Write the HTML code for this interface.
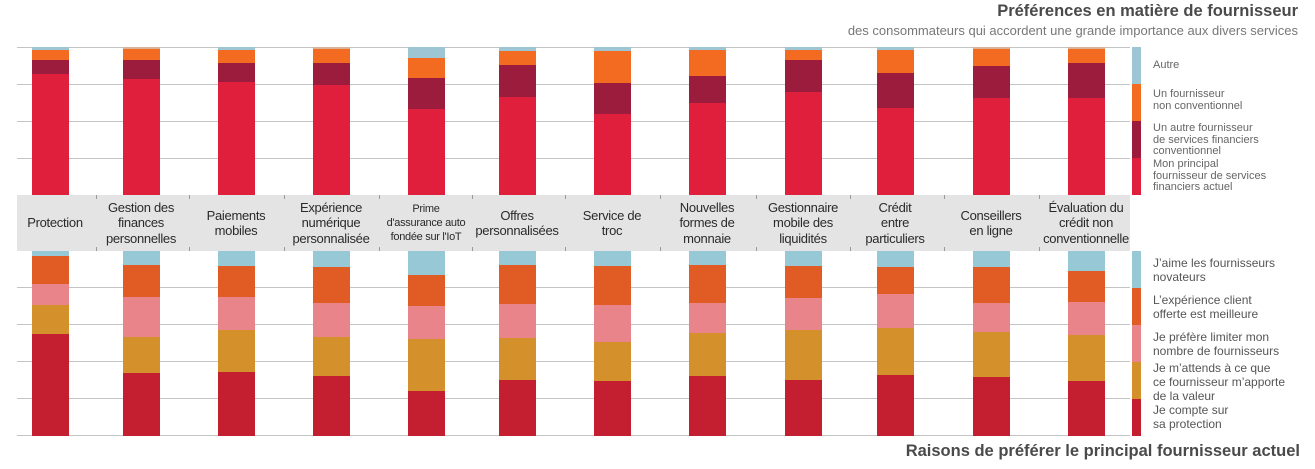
<!DOCTYPE html>
<html><head><meta charset="utf-8"><style>
body{margin:0;width:1315px;height:469px;background:#fff;position:relative;overflow:hidden;font-family:"Liberation Sans",sans-serif}
.a{position:absolute}
.g{position:absolute;height:1px;background:#c4c4c4;left:17px;width:1113px}
.s{position:absolute;width:37px}
.lab{position:absolute;top:195px;height:56px;display:flex;align-items:center;justify-content:center;text-align:center;font-size:13px;line-height:15.5px;color:#2a2a2a;width:110px;letter-spacing:-0.3px;white-space:nowrap}
.t{position:absolute;width:1px;height:4px;background:#999}
.lg{position:absolute;left:1153px;font-size:11px;line-height:11.5px;color:#666}
.lg2{position:absolute;left:1153px;font-size:12px;line-height:14px;color:#555}
</style></head><body>
<div class="a" style="right:17px;top:2px;font-size:16.5px;font-weight:bold;color:#4a4a4a">Préférences en matière de fournisseur</div>
<div class="a" style="right:17px;top:23px;font-size:13px;color:#777">des consommateurs qui accordent une grande importance aux divers services</div>
<div class="a" style="right:15px;top:442px;font-size:16.5px;font-weight:bold;color:#4a4a4a">Raisons de préférer le principal fournisseur actuel</div>
<div class="g" style="top:47px"></div><div class="g" style="top:84px"></div><div class="g" style="top:121px"></div><div class="g" style="top:158px"></div>
<div class="g" style="top:287px"></div><div class="g" style="top:324px"></div><div class="g" style="top:361px"></div><div class="g" style="top:398px"></div><div class="g" style="top:435px"></div>
<div class="a" style="left:17px;top:195px;width:1113px;height:56px;background:#e4e4e4"></div>
<div id="c"></div>
<div class="a" style="left:1132px;top:47px;width:9px;height:37px;background:#9ec5d3"></div>
<div class="a" style="left:1132px;top:84px;width:9px;height:37px;background:#f26b21"></div>
<div class="a" style="left:1132px;top:121px;width:9px;height:37px;background:#9b1c3c"></div>
<div class="a" style="left:1132px;top:158px;width:9px;height:37px;background:#e01f3d"></div>
<div class="lg" style="top:60px">Autre</div>
<div class="lg" style="top:89px">Un fournisseur<br>non conventionnel</div>
<div class="lg" style="top:123px">Un autre fournisseur<br>de services financiers<br>conventionnel</div>
<div class="lg" style="top:159px">Mon principal<br>fournisseur de services<br>financiers actuel</div>
<div class="a" style="left:1132px;top:251px;width:9px;height:37px;background:#96c8d6"></div>
<div class="a" style="left:1132px;top:288px;width:9px;height:37px;background:#e05c24"></div>
<div class="a" style="left:1132px;top:325px;width:9px;height:37px;background:#e8848a"></div>
<div class="a" style="left:1132px;top:362px;width:9px;height:37px;background:#d4902a"></div>
<div class="a" style="left:1132px;top:399px;width:9px;height:37px;background:#c41f31"></div>
<div class="lg2" style="top:256px">J’aime les fournisseurs<br>novateurs</div>
<div class="lg2" style="top:293px">L’expérience client<br>offerte est meilleure</div>
<div class="lg2" style="top:330px">Je préfère limiter mon<br>nombre de fournisseurs</div>
<div class="lg2" style="top:361px">Je m’attends à ce que<br>ce fournisseur m’apporte<br>de la valeur</div>
<div class="lg2" style="top:403px">Je compte sur<br>sa protection</div>
<script>
var xs=[32,123,218,313,408,499,594,689,785,877,973,1068];
var tp=[[47,50,60,74],[47,49,60,79],[47,50,63,82],[47,49,63,85],[47,58,78,109],[47,51,65,97],[47,51,83,114],[47,50,76,103],[47,50,60,92],[47,50,73,108],[47,49,66,98],[47,49,63,98]];
var tanI=[1,3,10,11];
var bot=[[251,256,284,305,334],[251,265,297,337,373],[251,266,297,330,372],[251,267,303,337,376],[251,275,306,339,391],[251,265,304,338,380],[251,266,305,342,381],[251,265,303,333,376],[251,266,298,330,380],[251,267,294,328,375],[251,267,303,332,377],[251,271,302,335,381]];
var labs=["Protection","Gestion des<br>finances<br>personnelles","Paiements<br>mobiles","Expérience<br>numérique<br>personnalisée","Prime<br>d'assurance auto<br>fondée sur l'IoT","Offres<br>personnalisées","Service de<br>troc","Nouvelles<br>formes de<br>monnaie","Gestionnaire<br>mobile des<br>liquidités","Crédit<br>entre<br>particuliers","Conseillers<br>en ligne","Évaluation du<br>crédit non<br>conventionnelle"];
var tc=["#9ec5d3","#f26b21","#9b1c3c","#e01f3d"],bc=["#96c8d6","#e05c24","#e8848a","#d4902a","#c41f31"];
var h="";
for(var i=0;i<12;i++){var x=xs[i];
var t=tp[i].concat([195]);
for(var k=0;k<4;k++){var c=tc[k];if(k==0&&tanI.indexOf(i)>=0)c="#d9b29a";h+='<div class="s" style="left:'+x+'px;top:'+t[k]+'px;height:'+(t[k+1]-t[k])+'px;background:'+c+'"></div>';}
var b=bot[i].concat([436]);
for(var k=0;k<5;k++)h+='<div class="s" style="left:'+x+'px;top:'+b[k]+'px;height:'+(b[k+1]-b[k])+'px;background:'+bc[k]+'"></div>';
var fs=i==4?'font-size:11px;line-height:14px;':'';
var lx=x+18-55; if(i==0)lx=x+18-50;
h+='<div class="lab" style="left:'+lx+'px;'+fs+'">'+labs[i]+'</div>';
if(i>0){var m=Math.round((xs[i-1]+37+x)/2);h+='<div class="t" style="left:'+m+'px;top:195px"></div><div class="t" style="left:'+m+'px;top:247px"></div>';}
}
document.getElementById("c").innerHTML=h;
</script>
</body></html>
